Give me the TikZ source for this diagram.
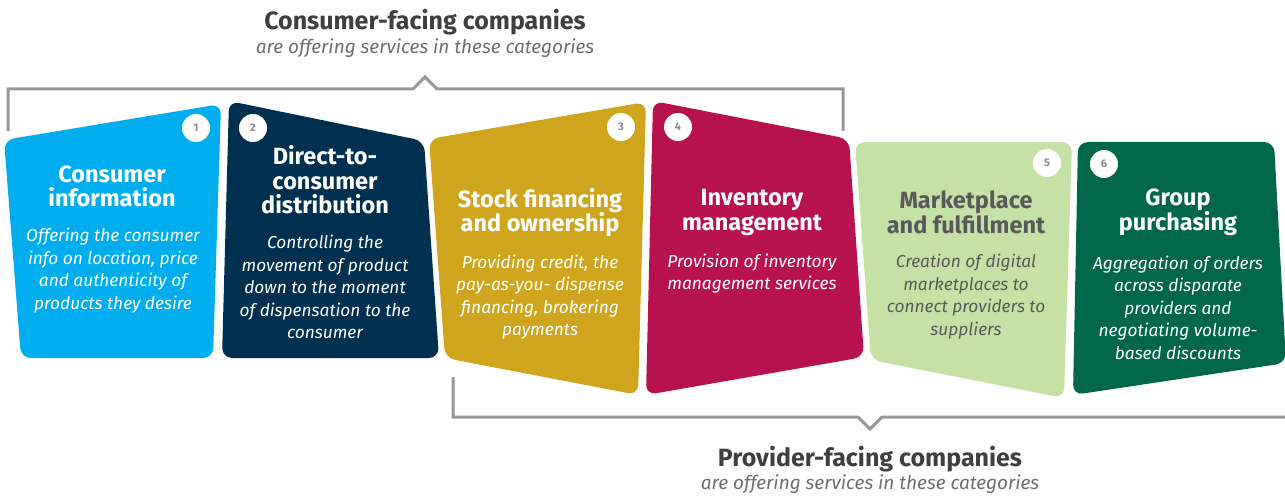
\documentclass[tikz,border=0pt]{standalone}
\usepackage{fontspec}
\setmainfont{Fira Sans}
\definecolor{cyanbox}{HTML}{00AEEF}
\definecolor{navybox}{HTML}{00304F}
\definecolor{goldbox}{HTML}{CFA51E}
\definecolor{magbox}{HTML}{B7124E}
\definecolor{lgreenbox}{HTML}{C5E1A5}
\definecolor{dgreenbox}{HTML}{00674A}
\definecolor{darktext}{HTML}{58595B}
\definecolor{numgray}{HTML}{8A8B8E}
\definecolor{brgray}{HTML}{96979A}
\definecolor{ttlgray}{HTML}{3F3F41}
\definecolor{subgray}{HTML}{6D6E71}
\begin{document}
\begin{tikzpicture}[x=1pt,y=-1pt,
  box/.style={rounded corners=10pt},
  head/.style={font=\fontsize{23.5}{24.5}\selectfont\bfseries,text=white,align=center,inner sep=0pt},
  body/.style={font=\fontsize{17.3}{22.5}\selectfont\itshape,text=white,align=center,inner sep=0pt},
  num/.style={circle,fill=white,minimum size=28pt,inner sep=0pt,font=\fontsize{11}{12}\selectfont\bfseries,text=numgray},
  bracket/.style={draw=brgray,line width=3pt},
  ttl/.style={font=\fontsize{25}{26}\selectfont\bfseries,text=ttlgray,inner sep=0pt},
  sub/.style={font=\fontsize{19}{22}\selectfont\itshape,text=subgray,inner sep=0pt}]
\useasboundingbox (0,0) rectangle (1285,497);

% boxes
\fill[box,cyanbox] (4,140) -- (221,104) -- (213,358) -- (21,358) -- cycle;
\fill[box,navybox] (229,101) -- (424,141) -- (439,358) -- (222,358) -- cycle;
\fill[box,goldbox] (429,139) -- (646,102) -- (638,395) -- (445,358) -- cycle;
\fill[box,magbox] (653,101) -- (849,139) -- (864,357) -- (646,395) -- cycle;
\fill[box,lgreenbox] (855,142) -- (1072,142) -- (1064,398) -- (871,360) -- cycle;
\fill[box,dgreenbox] (1078,142) -- (1274,142) -- (1286,363) -- (1073,395) -- cycle;

% number circles
\node[num] (n1) at (196,128) {1};
\node[num] (n2) at (253,128) {2};
\node[num] (n3) at (621,127) {3};
\node[num] (n4) at (678,127) {4};
\node[num] (n5) at (1047,163) {5};
\node[num] (n6) at (1104,164) {6};

% headings
\node[head] (h1) at (112,186.5) {Consumer\\information};
\node[head] (h2) at (325,180) {Direct-to-\\consumer\\distribution};
\node[head] (h3) at (540,212.5) {Stock financing\\and ownership};
\node[head] (h4) at (752,212.5) {Inventory\\management};
\node[head,text=darktext] (h5) at (966,212.5) {Marketplace\\and fulfillment};
\node[head] (h6) at (1178,212.5) {Group\\purchasing};

% bodies
\node[body] (b1) at (113,270.5) {Offering the consumer\\info on location, price\\and authenticity of\\products they desire};
\node[body] (b2) at (325,287) {Controlling the\\movement of product\\down to the moment\\of dispensation to the\\consumer};
\node[body] (b3) at (540,297) {Providing credit, the\\pay-as-you- dispense\\financing, brokering\\payments};
\node[body] (b4) at (752,273.5) {Provision of inventory\\management services};
\node[body,text=darktext] (b5) at (966,296.5) {Creation of digital\\marketplaces to\\connect providers to\\suppliers};
\node[body] (b6) at (1178,307.5) {Aggregation of orders\\across disparate\\providers and\\negotiating volume-\\based discounts};

% titles
\node[ttl] (t1) at (425,22) {Consumer-facing companies};
\node[sub] (s1) at (425,48) {are offering services in these categories};
\node[ttl] (t2) at (870,459) {Provider-facing companies};
\node[sub] (s2) at (870,484) {are offering services in these categories};

% top bracket
\coordinate (tl) at (8,131);
\coordinate (tr) at (843,131);
\coordinate (tp) at (425,77);
\draw[bracket] (tl) |- (413,89) -- (tp) -- (437,89) -| (tr);

% bottom bracket
\coordinate (bl) at (453,377);
\coordinate (br) at (1286,417);
\coordinate (bp) at (870,429);
\draw[bracket] (bl) |- (858,417) -- (bp) -- (882,417) -- (br);
\end{tikzpicture}
\end{document}
